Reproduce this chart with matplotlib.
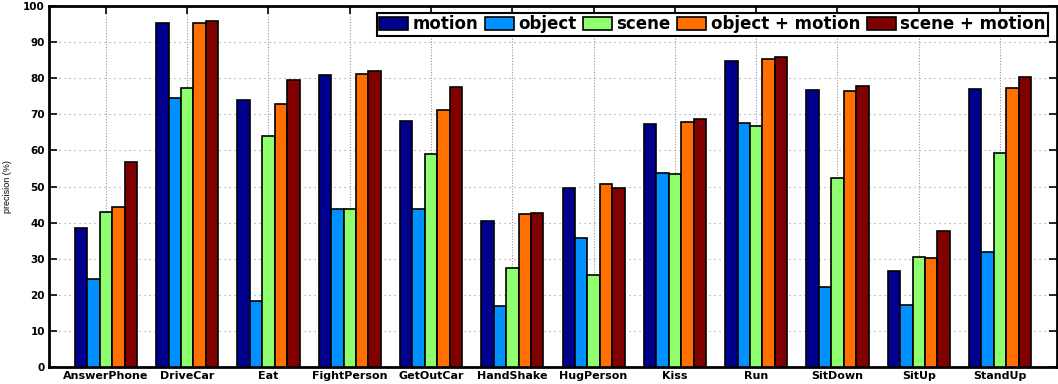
import numpy as np
import matplotlib
matplotlib.use("Agg")
import matplotlib.pyplot as plt

categories = ["AnswerPhone", "DriveCar", "Eat", "FightPerson", "GetOutCar", "HandShake",
              "HugPerson", "Kiss", "Run", "SitDown", "SitUp", "StandUp"]
motion = [38.6, 95.4, 73.9, 80.9, 68.1, 40.4, 49.6, 67.4, 84.9, 76.8, 26.7, 77.1]
obj = [24.3, 74.5, 18.3, 43.8, 43.7, 17.0, 35.7, 53.7, 67.6, 22.3, 17.1, 32.0]
scene = [43.0, 77.4, 64.0, 43.8, 58.9, 27.4, 25.6, 53.5, 66.8, 52.5, 30.4, 59.4]
obj_motion = [44.4, 95.4, 72.8, 81.2, 71.2, 42.3, 50.7, 68.0, 85.4, 76.6, 30.3, 77.4]
scene_motion = [56.7, 96.0, 79.6, 82.0, 77.6, 42.8, 49.6, 68.8, 86.0, 77.9, 37.8, 80.5]

series = [motion, obj, scene, obj_motion, scene_motion]
labels = ["motion", "object", "scene", "object + motion", "scene + motion"]
colors = ["#00008F", "#0090FF", "#8FFF70", "#FF7000", "#800000"]

fig = plt.figure(figsize=(10.58, 3.84), dpi=100)
ax = fig.add_axes([0.0463, 0.0443, 0.9527, 0.9397])

x = np.arange(1, len(categories) + 1)
w = 0.153
for i, (vals, lab, col) in enumerate(zip(series, labels, colors)):
    ax.bar(x + (i - 2) * w, vals, width=w, color=col, edgecolor="black",
           linewidth=1.2, label=lab, zorder=3)

ax.set_xlim(0.3, 12.7)
ax.set_ylim(0, 100)
ax.set_xticks(x)
ax.set_xticklabels(categories, fontsize=8, fontweight="bold")
ax.set_yticks(np.arange(0, 101, 10))
ax.set_yticklabels([str(v) for v in range(0, 101, 10)], fontsize=7.5, fontweight="bold")
ax.tick_params(direction="in", length=6, width=1.2, top=True, right=True, pad=3)
ax.xaxis.grid(True, linestyle=(0, (1, 1.5)), color="#999999", linewidth=0.8, zorder=0)
ax.yaxis.grid(True, linestyle=(0, (1, 3.5)), color="#999999", linewidth=0.8, zorder=0)
ax.set_axisbelow(True)
for s in ax.spines.values():
    s.set_linewidth(2)

ax.set_ylabel("precision (%)", fontsize=6.5, family=["Liberation Sans", "DejaVu Sans"],
              labelpad=8)

leg = ax.legend(loc="upper right", bbox_to_anchor=(0.991, 0.982), ncol=5,
                prop={"size": 12, "weight": "bold"}, frameon=True, fancybox=False,
                handlelength=1.75, handleheight=0.8, handletextpad=0.25,
                columnspacing=0.4, borderpad=0.15, borderaxespad=0)
leg.get_frame().set_edgecolor("black")
leg.get_frame().set_linewidth(1.5)
leg.get_frame().set_alpha(1)

fig.savefig("out.png", dpi=100)
